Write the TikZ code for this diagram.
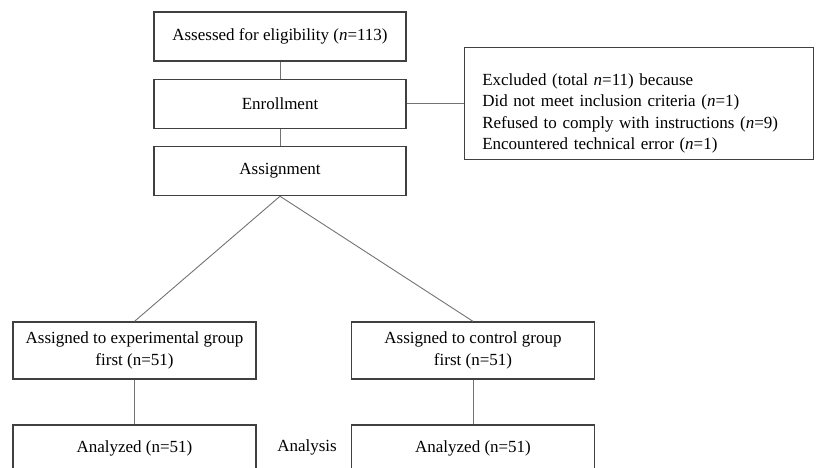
\documentclass[tikz,border=0pt]{standalone}
\usepackage{fontspec}
\setmainfont{Liberation Serif}
\usetikzlibrary{positioning}
\tikzset{
    %Define style for boxes
    stage/.style={
           rectangle,
           draw=black!75, line width=1.3pt,
           minimum width=252pt,
           minimum height=49pt,
           inner sep=0pt,
           font=\fontsize{17}{21.5}\selectfont,
           align=center},
    group/.style={
           stage,
           minimum width=243pt,
           minimum height=57pt},
    reason/.style={
           rectangle,
           draw=black!75, line width=1.3pt,
           minimum width=349pt,
           minimum height=112pt,
           text width=313pt,
           inner xsep=18pt, inner ysep=0pt,
           font=\fontsize{17}{21.3}\selectfont,
           align=left},
    plain/.style={
           font=\fontsize{17}{21.5}\selectfont},
    % Define line style
    link/.style={
           -,
           draw=black!55,
           line width=0.9pt}
}
\begin{document}
\begin{tikzpicture}[x=1pt,y=-1pt,node distance=17pt]
\useasboundingbox (0,0) rectangle (817,468);
\node[stage](assess) at (280,36.5){Assessed for eligibility (\textit{n}=113)};
\node[stage, below=of assess](enroll){Enrollment};
\node[stage, below=of enroll](assign){Assignment};
\node[reason, right=57pt of enroll](excl){\rule{0pt}{31pt}Excluded (total \textit{n}=11) because\\
Did not meet inclusion criteria (\textit{n}=1)\\
Refused to comply with instructions (\textit{n}=9)\\
Encountered technical error (\textit{n}=1)};

\node[group](expgrp) at (134.5,350.5){Assigned to experimental group\\first (n=51)};
\node[group](ctrlgrp) at (473,350.5){Assigned to control group\\first (n=51)};
\node[group, minimum height=46pt](expana) at (134.5,448){Analyzed (n=51)};
\node[group, minimum height=46pt](ctrlana) at (473,448){Analyzed (n=51)};
\node[plain](analysis) at (307,447){Analysis};

 \path[link]
    (assess) edge (enroll)
    (enroll) edge (assign)
    (enroll) edge (excl)
    (assign.south) edge (expgrp.north)
    (assign.south) edge (ctrlgrp.north)
    (expgrp) edge (expana)
    (ctrlgrp) edge (ctrlana);

\end{tikzpicture}
\end{document}
